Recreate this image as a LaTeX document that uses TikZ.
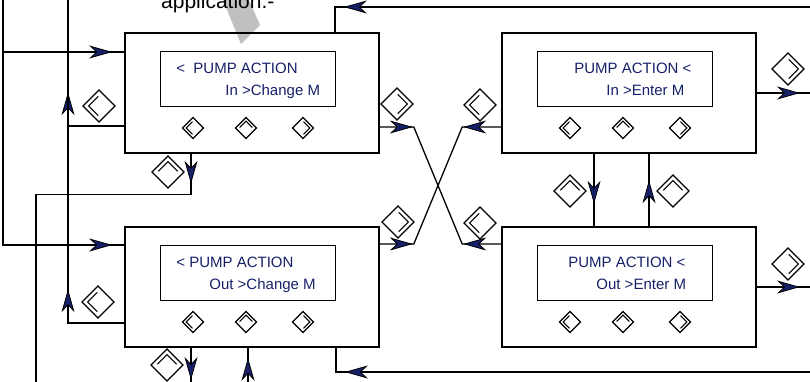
\documentclass[tikz,border=0pt]{standalone}
\usepackage{fontspec}
\setmainfont{Liberation Sans}
\usetikzlibrary{arrows.meta,decorations.markings,positioning}
\definecolor{mynavy}{RGB}{22,32,104}
\definecolor{mygrey}{RGB}{192,192,192}

\begin{document}
\begin{tikzpicture}[
  x=1pt, y=-1pt,
  >={Stealth[length=23pt,width=13pt,inset=7pt,line width=0.8pt,fill=mynavy]},
  myline/.style={line width=1.3pt},
  myouter/.style={
    draw,
    line width=1.6pt,
    minimum width=254pt,
    minimum height=120pt,
    inner sep=0pt
    },
  mydisplay/.style={
    draw,
    line width=1.6pt,
    minimum width=175pt,
    minimum height=55pt,
    inner sep=0pt
    },
  mytext/.style={inner sep=0pt, text=mynavy, font=\fontsize{15}{18}\selectfont},
  myarrowat/.style={
    postaction={decorate},
    decoration={markings, mark=at position #1 with {\arrow{>}}}
  },
  mykey/.pic={
    \draw[line width=1.3pt] (1,0) -- (0,1) -- (-1,0) -- (0,-1) -- cycle;
    \draw[line width=1.1pt] (0.05,0.6) -- (0.65,0) -- (0.05,-0.6);
  }
]
\useasboundingbox (0,0) rectangle (810,382);

% pointer of the note above
\fill[mygrey] (223,0) -- (249,0) -- (260,25) -- (241,44) -- cycle;
\node[anchor=base west, inner sep=0pt, font=\fontsize{21}{24}\selectfont] (note) at (161,8.5) {application.-};

% the four screens
\node[myouter] (boxA) at (252,93) {};
\node[myouter] (boxB) at (629,93) {};
\node[myouter] (boxC) at (252,287) {};
\node[myouter] (boxD) at (629,287) {};
\foreach \Box in {A,B,C,D}
  \node[mydisplay] (lcd\Box) at ([xshift=-4pt,yshift=14pt]box\Box.center) {};

\node[mytext, anchor=base west] (txtA1) at ([xshift=16.5pt,yshift=-22.5pt]lcdA.north west) {<\ \ PUMP ACTION};
\node[mytext, anchor=base west] (txtA2) at ([xshift=65.5pt,yshift=-45pt]lcdA.north west) {In >Change M};
\node[mytext, anchor=base west] (txtB1) at ([xshift=37.5pt,yshift=-22.5pt]lcdB.north west) {PUMP ACTION <};
\node[mytext, anchor=base west] (txtB2) at ([xshift=69.5pt,yshift=-45pt]lcdB.north west) {In >Enter M};
\node[mytext, anchor=base west] (txtC1) at ([xshift=16.5pt,yshift=-22.5pt]lcdC.north west) {< PUMP ACTION};
\node[mytext, anchor=base west] (txtC2) at ([xshift=49.5pt,yshift=-45pt]lcdC.north west) {Out >Change M};
\node[mytext, anchor=base west] (txtD1) at ([xshift=31.5pt,yshift=-22.5pt]lcdD.north west) {PUMP ACTION <};
\node[mytext, anchor=base west] (txtD2) at ([xshift=59.5pt,yshift=-45pt]lcdD.north west) {Out >Enter M};

% keys on the screens
\foreach \Box in {A,B,C,D}
  \foreach \dx/\r in {-59/180,-6/90,51/0}
    \pic[rotate=\r, scale=10.5] at ([xshift=\dx pt,yshift=-35pt]box\Box.center) {mykey};

% keys beside the connectors
\foreach \x/\y/\r in {99/106/180, 168/172/90, 397/104/0, 480/105/180, 788/69/0, 570/191/90,
                      673/191/90, 398/222/0, 480/223/180, 788/264/0, 98/302/180, 167/365/90}
  \pic[rotate=\r, scale=16] at (\x,\y) {mykey};

% end points
\coordinate (topL) at (3,0);
\coordinate (upL) at (68,0);
\coordinate (botL) at (36,382);
\coordinate (edgeB) at (0,382);
\coordinate (edgeR) at (810,0);
\coordinate (topR) at (810,7);
\coordinate (botR) at (810,372);

\coordinate (inA) at ([yshift=41pt]boxA.west);
\coordinate (inC) at ([yshift=42pt]boxC.west);
\coordinate (outA) at ([yshift=-33pt]boxA.west);
\coordinate (outC) at ([yshift=-36pt]boxC.west);
\coordinate (downA) at ([xshift=-61pt]boxA.south);
\coordinate (downC) at ([xshift=-61pt]boxC.south);
\coordinate (upC) at ([xshift=-4pt]boxC.south);
\coordinate (backC) at ([xshift=84pt]boxC.south);
\coordinate (backA) at ([xshift=83pt]boxA.north);
\coordinate (rA) at ([yshift=-34pt]boxA.east);
\coordinate (lB) at ([yshift=-34pt]boxB.west);
\coordinate (rC) at ([yshift=43pt]boxC.east);
\coordinate (lD) at ([yshift=43pt]boxD.west);
\coordinate (xA) at ([xshift=34pt]rA);
\coordinate (xB) at ([xshift=-39pt]lB);
\coordinate (xC) at ([xshift=34pt]rC);
\coordinate (xD) at ([xshift=-39pt]lD);
\coordinate (dnB) at ([xshift=-35pt]boxB.south);
\coordinate (upD) at ([xshift=20pt]boxD.north);

% connectors
\draw[myline, myarrowat=-34pt] (topR) -| (backA);
\draw[myline, myarrowat=-12pt] (topL) |- (inC);
\draw[myline, myarrowat=-12pt] (inA -| topL) -- (inA);
\draw[myline, myarrowat=90pt] (outA) -| (upL);
\draw[myline, myarrowat=90pt] (outC) -| (upL);
\draw[myline, myarrowat=30pt] (downA) -- ++(0,41) -| (botL);
\draw[myline, myarrowat=-2pt] (downC) -- (downC |- edgeB);
\draw[myline, myarrowat=-10pt] (upC |- edgeB) -- (upC);
\draw[myline, myarrowat=-33pt] (botR) -| (backC);
\draw[myline, myarrowat=-10pt] (boxB.east) -- (boxB.east -| edgeR);
\draw[myline, myarrowat=-10pt] (boxD.east) -- (boxD.east -| edgeR);
\draw[myline, myarrowat=50pt] (dnB) -- (dnB |- boxD.north);
\draw[myline, myarrowat=46pt] (upD) -- (upD |- boxB.south);
\draw[myline, postaction={decorate}, decoration={markings,
      mark=at position 33pt with {\arrow{>}},
      mark=at position -38pt with {\arrowreversed{>}}}]
  (rA) -- (xA) -- (xD) -- (lD);
\draw[myline, postaction={decorate}, decoration={markings,
      mark=at position 38pt with {\arrow{>}},
      mark=at position -33pt with {\arrowreversed{>}}}]
  (lB) -- (xB) -- (xC) -- (rC);

\end{tikzpicture}
\end{document}
